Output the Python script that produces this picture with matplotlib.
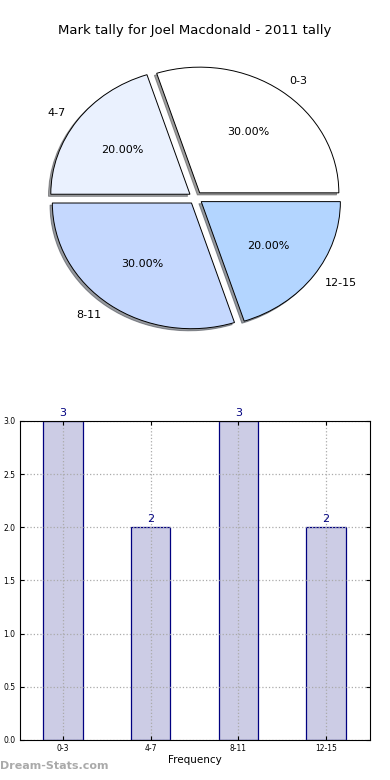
import numpy as np
import matplotlib
matplotlib.use('Agg')
import matplotlib.pyplot as plt

# data
categories = ['0-3', '4-7', '8-11', '12-15']
counts = [3, 2, 3, 2]
pie_colors = ['#ffffff', '#eaf1fe', '#c5d8fe', '#b3d5ff']

fig = plt.figure(figsize=(3.9, 7.8), dpi=100)

# pie chart
ax1 = fig.add_axes([0.109, 0.569, 0.785, 0.3545])
wedges, texts, autotexts = ax1.pie(counts, labels=categories, colors=pie_colors,
                                   explode=[0.05] * 4,
                                   shadow={'ox': -0.012, 'oy': -0.012, 'shade': 0.75},
                                   autopct='%.2f%%', startangle=0,
                                   textprops={'fontsize': 8},
                                   wedgeprops={'edgecolor': 'black', 'linewidth': 0.7})
ax1.set_aspect('auto')
ax1.set_xlim(-1.1, 1.1)
ax1.set_ylim(-1.1, 1.1)
fig.text(0.5, 0.9615, 'Mark tally for Joel Macdonald - 2011 tally',
         ha='center', va='center', fontsize=9.5)

# bar chart
ax2 = fig.add_axes([0.0513, 0.0513, 0.897, 0.409])
x = np.arange(len(categories))
ax2.bar(x, counts, width=0.45, color='#ccccE5', edgecolor='#000080', linewidth=0.9, zorder=2)
for xi, c in zip(x, counts):
    ax2.text(xi, c + 0.03, str(c), ha='center', va='bottom', color='#000080', fontsize=8)
ax2.set_xlim(-0.49, 3.5)
ax2.set_ylim(0, 3.0)
ax2.set_xticks(x)
ax2.set_xticklabels(categories)
ax2.set_yticks(np.arange(0, 3.01, 0.5))
ax2.tick_params(labelsize=5.5, length=3, direction='in', top=True, right=True)
ax2.tick_params(axis='x', pad=3)
ax2.grid(True, linestyle=':', color='#aaaaaa', linewidth=0.9, zorder=3)
ax2.set_axisbelow(False)
for sp in ax2.spines.values():
    sp.set_zorder(4)
ax2.set_xlabel('Frequency', fontsize=7.5, labelpad=1)

fig.text(0.0, 0.012, 'Dream-Stats.com', color='#aaaaaa', fontsize=8, fontweight='bold',
         ha='left', va='bottom')

fig.savefig('out.png', dpi=100)
